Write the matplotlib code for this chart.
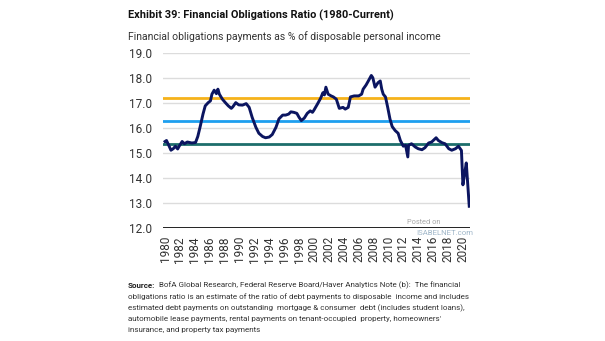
"""Financial obligations ratio, 1980 to current, with mean and +1/+2 sd bands."""

import matplotlib.pyplot as plt

# Quarterly-ish readings (decimal year, % of disposable personal income)
years = [
    1980.0, 1980.2, 1980.5, 1980.8, 1981.1, 1981.4, 1981.7, 1981.9, 1982.3, 1982.6,
    1983.0, 1983.6, 1984.1, 1984.4, 1984.7, 1985.1, 1985.4, 1985.8, 1986.1, 1986.3,
    1986.6, 1986.9, 1987.1, 1987.3, 1987.7, 1988.1, 1988.5, 1988.9, 1989.1, 1989.5,
    1989.9, 1990.4, 1990.9, 1991.3, 1991.7, 1992.2, 1992.6, 1993.1, 1993.5, 1994.0,
    1994.4, 1994.9, 1995.3, 1995.8, 1996.2, 1996.6, 1996.9, 1997.3, 1997.7, 1998.0,
    1998.3, 1998.7, 1999.1, 1999.5, 1999.8, 2000.0, 2000.5, 2000.9, 2001.2, 2001.4,
    2001.6, 2001.9, 2002.3, 2002.6, 2003.0, 2003.4, 2003.9, 2004.2, 2004.6, 2004.9,
    2005.4, 2006.0, 2006.4, 2006.6, 2007.0, 2007.3, 2007.7, 2007.9, 2008.2, 2008.6,
    2008.9, 2009.1, 2009.3, 2009.6, 2009.9, 2010.2, 2010.5, 2010.9, 2011.3, 2011.6,
    2012.0, 2012.3, 2012.6, 2012.7, 2013.1, 2013.6, 2014.0, 2014.5, 2014.9, 2015.4,
    2015.8, 2016.4, 2016.7, 2017.2, 2017.6, 2018.1, 2018.5, 2019.0, 2019.4, 2019.8,
    2020.0, 2020.3, 2020.45, 2020.85,
]
ratio = [
    15.46, 15.50, 15.31, 15.11, 15.17, 15.27, 15.16, 15.27, 15.46, 15.37,
    15.44, 15.40, 15.42, 15.66, 16.03, 16.56, 16.89, 17.02, 17.09, 17.36,
    17.52, 17.38, 17.56, 17.36, 17.16, 17.02, 16.89, 16.79, 16.85, 17.02,
    16.93, 16.92, 16.98, 16.83, 16.43, 16.03, 15.79, 15.66, 15.61, 15.64,
    15.74, 16.03, 16.37, 16.52, 16.52, 16.56, 16.65, 16.63, 16.59, 16.43,
    16.30, 16.40, 16.59, 16.69, 16.63, 16.72, 16.98, 17.20, 17.42, 17.33,
    17.64, 17.36, 17.29, 17.25, 17.16, 16.79, 16.83, 16.76, 16.83, 17.25,
    17.29, 17.29, 17.36, 17.56, 17.73, 17.89, 18.11, 18.02, 17.64, 17.82,
    17.89, 17.56, 17.36, 17.25, 16.83, 16.37, 16.06, 15.90, 15.79, 15.50,
    15.27, 15.31, 14.84, 15.31, 15.37, 15.24, 15.17, 15.13, 15.21, 15.40,
    15.44, 15.61, 15.50, 15.41, 15.37, 15.17, 15.11, 15.17, 15.27, 15.10,
    13.72, 14.31, 14.60, 12.86,
]

# Long-run average and +1 / +2 standard deviation reference lines
mean_level = 15.37
plus_1sd = 16.28
plus_2sd = 17.19

y_ticks = [12, 13, 14, 15, 16, 17, 18, 19]
x_ticks = list(range(1980, 2021, 2))

NAVY = "#0b1560"
GOLD = "#f6b21a"
SKY = "#1e9fef"
TEAL = "#1d6e6b"
GRID = "#dcdcdc"

plt.rcParams["font.family"] = ["Roboto", "DejaVu Sans"]

W, H = 605, 341
fig = plt.figure(figsize=(W / 100, H / 100), dpi=100)
ax = fig.add_axes([163 / W, 1 - 227.7 / H, 307 / W, 174.4 / H])

for y in y_ticks[1:]:
    ax.axhline(y, color=GRID, lw=1.0, zorder=1)
ax.axhline(y_ticks[0], color="#111111", lw=1.3, zorder=2)

ax.axhline(plus_2sd, color=GOLD, lw=2.0, zorder=3)
ax.axhline(plus_1sd, color=SKY, lw=2.0, zorder=3)
ax.axhline(mean_level, color=TEAL, lw=2.0, zorder=3)

ax.plot(years, ratio, color=NAVY, lw=2.1, zorder=4, solid_joinstyle="round")

ax.set_xlim(1979.73, 2020.95)
ax.set_ylim(12, 19)
ax.set_yticks(y_ticks)
ax.set_yticklabels([f"{v:.1f}" for v in y_ticks])
ax.set_xticks(x_ticks)
ax.set_xticklabels([str(v) for v in x_ticks], rotation=90)
ax.tick_params(axis="y", length=0, pad=8, labelsize=8.5, labelcolor="#333333")
ax.tick_params(axis="x", length=0, pad=6, labelsize=8.5, labelcolor="#333333")
for s in ax.spines.values():
    s.set_visible(False)

fig.text(128 / W, 1 - 15 / H, "Exhibit 39: Financial Obligations Ratio (1980-Current)",
         fontsize=7.9, fontweight="bold", color="#111111", va="center")
fig.text(128 / W, 1 - 37 / H, "Financial obligations payments as % of disposable personal income",
         fontsize=7.5, color="#333333", va="center")

# watermark
fig.text(407 / W, 1 - 223 / H, "Posted on", fontsize=5.3, color="#a8a8a8", va="center")
fig.text(416 / W, 1 - 233 / H, "ISABELNET.com", fontsize=5.6, color="#9fb6c8", va="center")

source_lines = [
    "BofA Global Research, Federal Reserve Board/Haver Analytics Note (b):  The financial",
    "obligations ratio is an estimate of the ratio of debt payments to disposable  income and includes",
    "estimated debt payments on outstanding  mortgage & consumer  debt (includes student loans),",
    "automobile lease payments, rental payments on tenant-occupied  property, homeowners'",
    "insurance, and property tax payments",
]
line_y = [285, 297, 308, 319, 330]
src = fig.text(128 / W, 1 - line_y[0] / H, "Source:", fontsize=5.8, fontweight="bold",
               color="#222222", va="center")
fig.canvas.draw()
bb = src.get_window_extent()
fig.text((bb.x1 + 4) / W, 1 - line_y[0] / H, source_lines[0], fontsize=5.8,
         color="#333333", va="center")
for txt, yy in zip(source_lines[1:], line_y[1:]):
    fig.text(128 / W, 1 - yy / H, txt, fontsize=5.8, color="#333333", va="center")

fig.savefig("out.png", dpi=100, facecolor="white")
